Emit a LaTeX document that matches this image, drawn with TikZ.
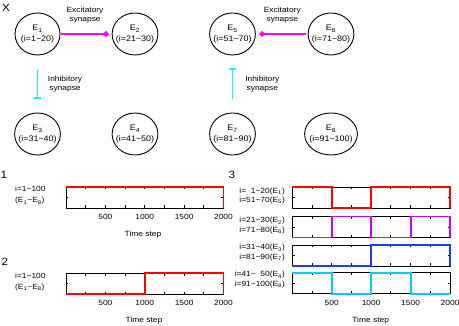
\documentclass[tikz,border=0pt]{standalone}
\usepackage{fontspec}
\setmainfont{Liberation Sans}[FakeStretch=1.12]
\usepackage{tikz}
\usetikzlibrary{shapes.geometric, arrows.meta}
\definecolor{excmag}{RGB}{255,0,255}
\definecolor{inhcyan}{RGB}{0,255,255}
\definecolor{trmag}{RGB}{204,0,255}
\definecolor{trblue}{RGB}{30,60,255}
\definecolor{trcyan}{RGB}{0,204,255}

\begin{document}
\begin{tikzpicture}[x=1pt, y=-1pt,
  every node/.style={font=\fontsize{7.5}{9.5}\selectfont, inner sep=0pt},
  neuron/.style={ellipse, draw, line width=0.9pt, minimum width=45pt, minimum height=42pt,
    inner xsep=-3pt, align=center, font=\fontsize{8}{10.5}\selectfont},
  panel/.style={font=\fontsize{10.5}{12}\selectfont},
  excite/.style={excmag, line width=1.6pt, -{Circle[length=5.5pt, width=5.5pt]}},
  inhibit/.style={inhcyan, line width=1.6pt, -{Bar[width=7pt, line width=1.6pt]}},
  axis/.style={line width=0.9pt},
  trace/.style={line width=1.9pt},
  pics/timeaxis/.style={code={
    \draw[axis] (0,0) rectangle (2000,21);
    \foreach \t in {250,500,...,1750}
      \draw[axis] (\t,0) -- ++(0,2.5) (\t,21) -- ++(0,-2.5);
    \draw[axis] (0,10.5) -- ++(30,0) (2000,10.5) -- ++(-30,0);
  }}]
  \useasboundingbox (0,0) rectangle (459,326);

  % Network
  \node[panel] (X) at (6,8) {X};
  \node[neuron] (E1) at (37.5,34) {E\textsubscript{1}\\(i=1\textasciitilde20)};
  \node[neuron] (E2) at (135,34) {E\textsubscript{2}\\(i=21\textasciitilde30)};
  \node[neuron] (E3) at (37.5,134) {E\textsubscript{3}\\(i=31\textasciitilde40)};
  \node[neuron] (E4) at (135,134) {E\textsubscript{4}\\(i=41\textasciitilde50)};
  \node[neuron] (E5) at (232.5,34) {E\textsubscript{5}\\(i=51\textasciitilde70)};
  \node[neuron] (E6) at (331,34) {E\textsubscript{6}\\(i=71\textasciitilde80)};
  \node[neuron] (E7) at (232.5,134) {E\textsubscript{7}\\(i=81\textasciitilde90)};
  \node[neuron] (E8) at (331,134) {E\textsubscript{8}\\(i=91\textasciitilde100)};

  \draw[excite, shorten <=1pt, shorten >=3pt] (E1) -- (E2);
  \draw[excite, shorten <=2pt, shorten >=3.5pt] (E6) -- (E5);
  \draw[inhibit, shorten <=13.3pt, shorten >=13.7pt] (E1) -- (E3);
  \draw[inhibit, shorten <=14pt, shorten >=13pt] (E7) -- (E5);

  \node[align=center] (exc1) at (85,15) {Excitatory\\synapse};
  \node[align=center] (exc2) at (282.3,15) {Excitatory\\synapse};
  \node[align=center] (inh1) at (65,84) {Inhibitory\\synapse};
  \node[align=center] (inh2) at (262.3,84) {Inhibitory\\synapse};

  % Panel 1
  \node[panel] (p1) at (4,175) {1};
  \node[anchor=west, align=left, font=\fontsize{7.5}{11}\selectfont] (lab1) at (15,195.5)
    {i=1\textasciitilde100\\(E\textsubscript{1}\textasciitilde E\textsubscript{8})};
  \begin{scope}[shift={(66,187)}, x=0.07875pt]
    \pic {timeaxis};
    \draw[trace, red] (0,0) -- (2000,0) -- (2000,21);
    \foreach \t in {500,1000,1500,2000}
      \node (ta\t) at (\t,30) {\t};
  \end{scope}
  \node (ts1) at (143,235) {Time step};

  % Panel 2
  \node[panel] (p2) at (5,262) {2};
  \node[anchor=west, align=left, font=\fontsize{7.5}{11}\selectfont] (lab2) at (15,282)
    {i=1\textasciitilde100\\(E\textsubscript{1}\textasciitilde E\textsubscript{8})};
  \begin{scope}[shift={(66,273.3)}, x=0.07875pt]
    \pic {timeaxis};
    \draw[trace, red] (0,21) -- (1000,21) -- (1000,0) -- (2000,0) -- (2000,21);
    \foreach \t in {500,1000,1500,2000}
      \node (tb\t) at (\t,30) {\t};
  \end{scope}
  \node (ts2) at (144,321) {Time step};

  % Panel 3
  \node[panel] (p3) at (232,175) {3};
  \node[anchor=east, align=right] (lab3a) at (285,196)
    {i=\ \ 1\textasciitilde20(E\textsubscript{1})\\i=51\textasciitilde70(E\textsubscript{5})};
  \node[anchor=east, align=right] (lab3b) at (285,225.7)
    {i=21\textasciitilde30(E\textsubscript{2})\\i=71\textasciitilde80(E\textsubscript{6})};
  \node[anchor=east, align=right] (lab3c) at (285,252.8)
    {i=31\textasciitilde40(E\textsubscript{3})\\i=81\textasciitilde90(E\textsubscript{7})};
  \node[anchor=east, align=right] (lab3d) at (285,279.7)
    {i=41\textasciitilde\ \ 50(E\textsubscript{4})\\i=91\textasciitilde100(E\textsubscript{8})};
  \begin{scope}[shift={(292.3,187)}, x=0.07885pt]
    \pic {timeaxis};
    \draw[trace, red] (0,0) -- (500,0) -- (500,21) -- (1000,21) -- (1000,0) -- (2000,0) -- (2000,21);
  \end{scope}
  \begin{scope}[shift={(292.3,216.5)}, x=0.07885pt]
    \pic {timeaxis};
    \draw[trace, trmag] (0,21) -- (500,21) -- (500,0) -- (1000,0) -- (1000,21) -- (1500,21)
      -- (1500,0) -- (2000,0) -- (2000,21);
  \end{scope}
  \begin{scope}[shift={(292.3,245)}, x=0.07885pt]
    \pic {timeaxis};
    \draw[trace, trblue] (0,21) -- (1000,21) -- (1000,0) -- (2000,0) -- (2000,21);
  \end{scope}
  \begin{scope}[shift={(292.3,272.7)}, x=0.07885pt]
    \pic {timeaxis};
    \draw[trace, trcyan] (0,0) -- (500,0) -- (500,21) -- (1000,21) -- (1000,0) -- (1500,0)
      -- (1500,21) -- (2000,21);
    \foreach \t in {500,1000,1500,2000}
      \node (tc\t) at (\t,30) {\t};
  \end{scope}
  \node (ts3) at (370.7,320.7) {Time step};
\end{tikzpicture}
\end{document}
